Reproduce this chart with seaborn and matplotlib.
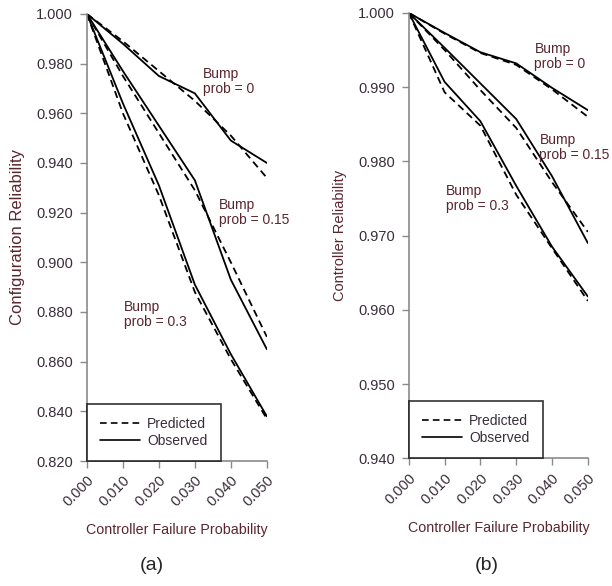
import numpy as np
import pandas as pd
import matplotlib
matplotlib.use("Agg")
import matplotlib.pyplot as plt
import seaborn as sns
from matplotlib.lines import Line2D

# Controller failure probability (x axis, both panels)
failure_prob = [0.000, 0.010, 0.020, 0.030, 0.040, 0.050]
bump_probs = ["0", "0.15", "0.3"]

# (a) Configuration reliability
config_pred = {
    "0": [1.000, 0.989, 0.977, 0.965, 0.951, 0.934],
    "0.15": [1.000, 0.975, 0.952, 0.929, 0.900, 0.870],
    "0.3": [1.000, 0.960, 0.927, 0.888, 0.861, 0.837],
}
config_obs = {
    "0": [1.000, 0.988, 0.975, 0.968, 0.949, 0.940],
    "0.15": [1.000, 0.977, 0.955, 0.933, 0.893, 0.865],
    "0.3": [1.000, 0.964, 0.931, 0.891, 0.863, 0.838],
}

# (b) Controller reliability
ctrl_pred = {
    "0": [1.000, 0.9972, 0.9946, 0.9930, 0.9897, 0.9860],
    "0.15": [1.000, 0.9950, 0.9896, 0.9845, 0.9772, 0.9705],
    "0.3": [1.000, 0.9893, 0.9848, 0.9755, 0.9683, 0.9612],
}
ctrl_obs = {
    "0": [1.000, 0.9973, 0.9947, 0.9932, 0.9899, 0.9869],
    "0.15": [1.000, 0.9953, 0.9905, 0.9857, 0.9780, 0.9690],
    "0.3": [1.000, 0.9907, 0.9854, 0.9767, 0.9685, 0.9618],
}


def to_frame(pred, obs):
    rows = []
    for b in bump_probs:
        for x, p, o in zip(failure_prob, pred[b], obs[b]):
            rows.append({"x": x, "y": p, "bump": b, "kind": "Predicted"})
            rows.append({"x": x, "y": o, "bump": b, "kind": "Observed"})
    return pd.DataFrame(rows)


sns.set_style("ticks")
plt.rcParams["font.family"] = ["Liberation Sans", "DejaVu Sans"]

text_col = "#3a2d3a"
label_col = "#5a2630"
spine_col = "#8a8a8a"
dash = (0, (4, 2.5))

fig = plt.figure(figsize=(6.12, 5.86), dpi=100)
ax_a = fig.add_axes([0.142, 0.2133, 0.294, 0.763])
ax_b = fig.add_axes([0.668, 0.2180, 0.2925, 0.760])

panels = [
    (ax_a, to_frame(config_pred, config_obs), "Configuration Reliability", 12,
     (0.820, 1.000), np.arange(0.82, 1.0001, 0.02),
     {"0": (0.0322, 0.9786), "0.15": (0.0367, 0.926), "0.3": (0.0103, 0.885)}),
    (ax_b, to_frame(ctrl_pred, ctrl_obs), "Controller Reliability", 10.5,
     (0.940, 1.000), np.arange(0.94, 1.0001, 0.01),
     {"0": (0.0351, 0.9961), "0.15": (0.0365, 0.9838), "0.3": (0.0103, 0.9769)}),
]

for ax, df, ylabel, ysize, ylim, yticks, notes in panels:
    for b in bump_probs:
        sub = df[df["bump"] == b]
        sns.lineplot(data=sub[sub["kind"] == "Predicted"], x="x", y="y", ax=ax,
                     color="black", linestyle=dash, linewidth=1.3,
                     legend=False, estimator=None)
        sns.lineplot(data=sub[sub["kind"] == "Observed"], x="x", y="y", ax=ax,
                     color="black", linewidth=1.3, legend=False, estimator=None)
    ax.set_xlim(0, 0.05)
    ax.set_ylim(*ylim)
    ax.set_xticks(failure_prob)
    ax.set_xticklabels([f"{v:.3f}" for v in failure_prob], rotation=45,
                       ha="right", rotation_mode="anchor")
    ax.set_yticks(yticks)
    ax.set_yticklabels([f"{v:.3f}" for v in yticks])
    ax.tick_params(axis="both", colors=spine_col, labelcolor=text_col,
                   length=5, width=1)
    ax.tick_params(axis="y", labelsize=10.5, pad=5)
    ax.tick_params(axis="x", labelsize=10.5, pad=4)
    sns.despine(ax=ax)
    for s in ("left", "bottom"):
        ax.spines[s].set_color(spine_col)
        ax.spines[s].set_linewidth(1.2)
    ax.set_xlabel("Controller Failure Probability", fontsize=10.3,
                  color=label_col, labelpad=10)
    ax.set_ylabel(ylabel, fontsize=ysize, color=label_col, labelpad=8)
    for b in bump_probs:
        nx, ny = notes[b]
        ax.text(nx, ny, f"Bump\nprob = {b}", fontsize=10, color=label_col,
                va="top", ha="left", linespacing=1.1)
    handles = [Line2D([], [], color="black", linestyle=dash, linewidth=1.2),
               Line2D([], [], color="black", linewidth=1.2)]
    leg = ax.legend(handles, ["Predicted", "Observed"], loc="lower left",
                    borderaxespad=0, fontsize=10, handlelength=2.9,
                    fancybox=False, frameon=True, labelspacing=0.2,
                    borderpad=0.95, handletextpad=0.5)
    leg.get_frame().set_edgecolor("black")
    leg.get_frame().set_linewidth(1.2)
    for t in leg.get_texts():
        t.set_color(text_col)

fig.text(152 / 612, 1 - 565 / 586, "(a)", fontsize=14, ha="center", va="center")
fig.text(487 / 612, 1 - 565 / 586, "(b)", fontsize=14, ha="center", va="center")

fig.savefig("out.png", dpi=100)
